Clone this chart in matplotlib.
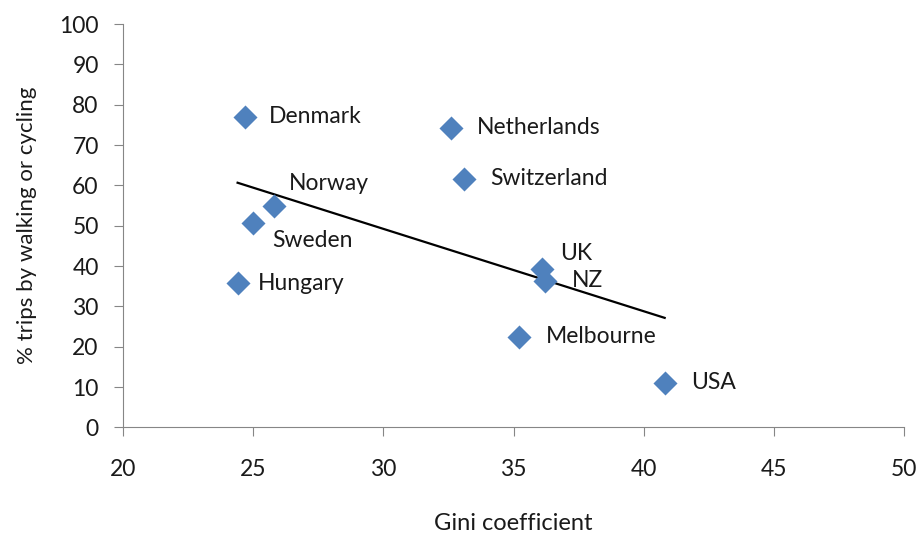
import numpy as np
import matplotlib
matplotlib.use("Agg")
import matplotlib.pyplot as plt

countries = ["Denmark", "Netherlands", "Switzerland", "Norway", "Sweden",
             "Hungary", "UK", "NZ", "Melbourne", "USA"]
gini = [24.7, 32.6, 33.1, 25.8, 25.0, 24.4, 36.1, 36.2, 35.2, 40.8]
active = [77.0, 74.3, 61.7, 55.0, 50.8, 35.7, 39.4, 36.4, 22.5, 11.1]
label_offsets = [(23, 0), (26, 0), (26, 0), (15, 22), (19, -18),
                 (20, 0), (18, 15), (27, 0), (27, 0), (26, 0)]

x_ticks = [20, 25, 30, 35, 40, 45, 50]
y_ticks = [0, 10, 20, 30, 40, 50, 60, 70, 80, 90, 100]

plt.rcParams['font.family'] = ['Lato', 'DejaVu Sans']

fig = plt.figure(figsize=(9.18, 5.35), dpi=100)
ax = fig.add_axes([0.134, 0.201, 0.851, 0.754])

ax.scatter(gini, active, marker='D', s=150, color='#4F81BD', zorder=3,
           linewidths=0)

for name, x, y, (dx, dy) in zip(countries, gini, active, label_offsets):
    ax.annotate(name, (x, y), xytext=(dx * 0.72, dy * 0.72),
                textcoords='offset points', ha='left', va='center',
                fontsize=16.5, color='#1a1a1a')

coef = np.polyfit(gini, active, 1)
xs = np.array([min(gini), max(gini)])
ax.plot(xs, np.polyval(coef, xs), color='black', lw=1.6, zorder=2)

ax.set_xlim(20, 50)
ax.set_ylim(0, 100)
ax.set_xticks(x_ticks)
ax.set_yticks(y_ticks)
ax.tick_params(axis='both', labelsize=16.5, color='#868686', length=6.5,
               direction='out', labelcolor='#1a1a1a')
ax.tick_params(axis='x', pad=16)
ax.tick_params(axis='y', pad=11)
for s in ['top', 'right']:
    ax.spines[s].set_visible(False)
for s in ['left', 'bottom']:
    ax.spines[s].set_color('#868686')
ax.set_xlabel('Gini coefficient', fontsize=17, labelpad=24, color='#1a1a1a')
ax.set_ylabel('% trips by walking or cycling', fontsize=16, labelpad=16,
              color='#1a1a1a')

fig.savefig('out.png', dpi=100)
